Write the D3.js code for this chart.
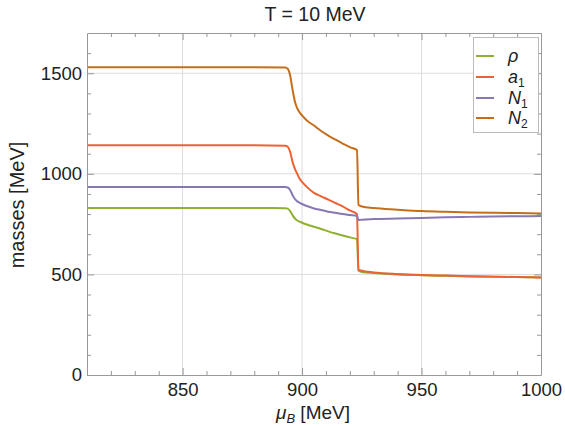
<!DOCTYPE html>
<html><head><meta charset="utf-8">
<script src="https://cdn.jsdelivr.net/npm/d3@7"></script>
<style>body{margin:0;background:#fff}svg{display:block;font-family:"Liberation Sans",Arial,sans-serif}</style>
</head><body><div id="chart"></div>
<script>
const mu   = [810, 850, 880, 893, 894, 895, 896, 897, 898, 899, 900, 902, 905, 908, 911, 914, 917, 920, 923, 923.6, 925, 930, 940, 950, 960, 970, 980, 990, 1000];
const rho  = [830, 830, 830, 829, 827, 815, 795, 778, 768, 762, 757, 748, 737, 726, 714, 703, 693, 684, 675, 518, 512, 507, 500, 496, 493, 490, 488, 487, 485];
const a1   = [1142,1142,1142,1140,1135,1110,1060,1025,1000,975, 960, 935, 905, 888, 872, 855, 838, 818, 800, 523, 518, 510, 502, 497, 494, 491, 489, 487, 485];
const N1   = [935, 935, 935, 934, 932, 920, 895, 875, 863, 856, 850, 840, 828, 820, 812, 806, 800, 795, 790, 770, 772, 775, 778, 781, 784, 786, 788, 789, 790];
const N2   = [1530,1530,1530,1528,1522,1490,1420,1360,1325,1305,1290,1265,1240,1213,1190,1170,1150,1133,1118, 845, 838, 830, 822, 815, 811, 808, 806, 805, 803];
const seriesNames = ["ρ", "a", "N", "N"];
const seriesSubs  = ["", "1", "1", "2"];
const seriesData  = [rho, a1, N1, N2];
const colors = ["#8FB032", "#EB6235", "#8778B3", "#C56E1A"];
const xTicks = [850, 900, 950, 1000];
const yTicks = [0, 500, 1000, 1500];

const W = 565, H = 426;
const m = {l: 87, r: 24, t: 33, b: 51};
const svg = d3.select("#chart").append("svg").attr("width", W).attr("height", H);
const x = d3.scaleLinear().domain([810, 1000]).range([m.l, W - m.r]);
const y = d3.scaleLinear().domain([0, 1700]).range([H - m.b, m.t]);
const fmt = d3.format("d");

// grid
svg.append("g").selectAll("line").data(xTicks.filter(d => d < 1000)).join("line")
  .attr("x1", d => x(d)).attr("x2", d => x(d)).attr("y1", y(0)).attr("y2", y(1700))
  .attr("stroke", "#dcdcdc").attr("stroke-width", 1);
svg.append("g").selectAll("line").data(yTicks.filter(d => d > 0)).join("line")
  .attr("x1", x(810)).attr("x2", x(1000)).attr("y1", d => y(d)).attr("y2", d => y(d))
  .attr("stroke", "#dcdcdc").attr("stroke-width", 1);

// lines
const line = d3.line().x((d, i) => x(mu[i])).y(d => y(d)).curve(d3.curveMonotoneX);
seriesData.forEach((s, k) => {
  svg.append("path").datum(s).attr("d", line).attr("fill", "none")
    .attr("stroke", colors[k]).attr("stroke-width", 2).attr("stroke-linejoin", "round");
});

// frame axes with inside ticks
const tickCol = "#999";
function styleAxis(g) {
  g.selectAll(".domain").attr("stroke", tickCol);
  g.selectAll(".tick line").attr("stroke", tickCol);
  g.selectAll("text").attr("fill", "#222").attr("font-size", 18.5);
}
const xMinor = d3.range(820, 1000, 10).filter(d => d % 50 !== 0);
const yMinor = d3.range(100, 1700, 100).filter(d => d % 500 !== 0);

const gxb = svg.append("g").attr("transform", `translate(0,${y(0)})`)
  .call(d3.axisBottom(x).tickValues(xTicks).tickSizeInner(-7).tickSizeOuter(0).tickPadding(8).tickFormat(fmt));
styleAxis(gxb);
svg.append("g").attr("transform", `translate(0,${y(0)})`)
  .call(d3.axisBottom(x).tickValues(xMinor).tickSizeInner(-4).tickSizeOuter(0).tickFormat(""))
  .call(g => { g.select(".domain").remove(); g.selectAll(".tick line").attr("stroke", tickCol); });

const gxt = svg.append("g").attr("transform", `translate(0,${y(1700)})`)
  .call(d3.axisTop(x).tickValues(xTicks).tickSizeInner(-7).tickSizeOuter(0).tickFormat(""));
styleAxis(gxt);
svg.append("g").attr("transform", `translate(0,${y(1700)})`)
  .call(d3.axisTop(x).tickValues(xMinor).tickSizeInner(-4).tickSizeOuter(0).tickFormat(""))
  .call(g => { g.select(".domain").remove(); g.selectAll(".tick line").attr("stroke", tickCol); });

const gyl = svg.append("g").attr("transform", `translate(${x(810)},0)`)
  .call(d3.axisLeft(y).tickValues(yTicks).tickSizeInner(-7).tickSizeOuter(0).tickPadding(5).tickFormat(fmt));
styleAxis(gyl);
svg.append("g").attr("transform", `translate(${x(810)},0)`)
  .call(d3.axisLeft(y).tickValues(yMinor).tickSizeInner(-4).tickSizeOuter(0).tickFormat(""))
  .call(g => { g.select(".domain").remove(); g.selectAll(".tick line").attr("stroke", tickCol); });

const gyr = svg.append("g").attr("transform", `translate(${x(1000)},0)`)
  .call(d3.axisRight(y).tickValues(yTicks).tickSizeInner(-7).tickSizeOuter(0).tickFormat(""));
styleAxis(gyr);
svg.append("g").attr("transform", `translate(${x(1000)},0)`)
  .call(d3.axisRight(y).tickValues(yMinor).tickSizeInner(-4).tickSizeOuter(0).tickFormat(""))
  .call(g => { g.select(".domain").remove(); g.selectAll(".tick line").attr("stroke", tickCol); });

// title & labels
svg.append("text").attr("x", 315).attr("y", 21).attr("text-anchor", "middle")
  .attr("font-size", 19.5).attr("fill", "#222").text("T = 10 MeV");
svg.append("text").attr("transform", `translate(24,205) rotate(-90)`)
  .attr("text-anchor", "middle").attr("font-size", 20).attr("fill", "#222").text("masses [MeV]");
const xl = svg.append("text").attr("x", 313).attr("y", 419).attr("text-anchor", "middle")
  .attr("font-size", 19).attr("fill", "#222");
xl.append("tspan").attr("font-style", "italic").text("μ");
xl.append("tspan").attr("font-style", "italic").attr("font-size", 13).attr("dy", 4).text("B");
xl.append("tspan").attr("dy", -4).text(" [MeV]");

// legend
const lg = svg.append("g");
lg.append("rect").attr("x", 473.5).attr("y", 37.5).attr("width", 65).attr("height", 95)
  .attr("fill", "#fff").attr("stroke", "#bbb").attr("stroke-width", 1);
const ly = [56, 77, 98, 118];
seriesData.forEach((s, k) => {
  lg.append("line").attr("x1", 476).attr("x2", 494).attr("y1", ly[k]).attr("y2", ly[k])
    .attr("stroke", colors[k]).attr("stroke-width", 2);
  const t = lg.append("text").attr("x", 508).attr("y", ly[k] + 6).attr("font-size", 18)
    .attr("font-style", "italic").attr("fill", "#222");
  t.append("tspan").text(seriesNames[k]);
  if (seriesSubs[k]) t.append("tspan").attr("font-size", 12).attr("dy", 4).attr("font-style", "normal").text(seriesSubs[k]);
});
</script></body></html>
